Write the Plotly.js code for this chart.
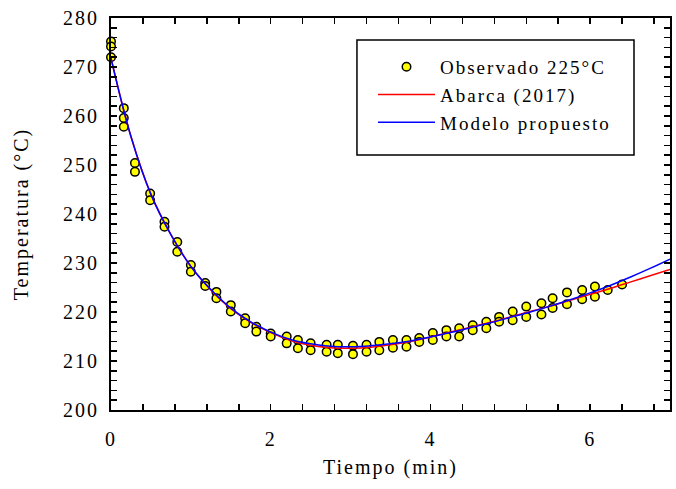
<!DOCTYPE html>
<html><head><meta charset="utf-8">
<script src="https://cdn.plot.ly/plotly-3.0.1.min.js"></script>
<style>
body{margin:0;background:#fff}
#chart text{letter-spacing:2px}
#chart .legend, #chart .legend *{clip-path:none !important}
</style>
</head><body>
<div id="chart" style="width:676px;height:489px"></div>
<script>
// Observed data (225 °C), time in min, temperature in °C
const obsTime = [0,0,0, 0.16,0.16,0.16, 0.3,0.3, 0.49,0.49, 0.67,0.67, 0.83,0.83, 1.0,1.0,
  1.18,1.18, 1.32,1.32, 1.5,1.5, 1.68,1.68, 1.82,1.82, 2.0,2.0, 2.2,2.2, 2.34,2.34, 2.5,2.5,
  2.7,2.7, 2.84,2.84, 3.03,3.03, 3.2,3.2, 3.36,3.36, 3.53,3.53, 3.7,3.7, 3.86,3.86, 4.03,4.03,
  4.2,4.2, 4.36,4.36, 4.53,4.53, 4.7,4.7, 4.86,4.86, 5.03,5.03, 5.2,5.2, 5.39,5.39, 5.53,5.53,
  5.71,5.71, 5.9,5.9, 6.06,6.06, 6.22, 6.4];
const obsTemp = [275.2,274.2,272.0, 261.6,259.6,257.8, 250.4,248.6, 244.2,242.8, 238.4,237.4, 234.3,232.3, 229.6,228.2,
  225.9,225.3, 224.1,222.8, 221.4,220.1, 218.7,217.7, 217.0,216.0, 215.6,215.0, 215.0,213.6, 214.3,212.6, 213.6,212.2,
  213.3,211.9, 213.3,211.6, 213.1,211.4, 213.3,211.9, 213.9,212.2, 214.3,212.7, 214.3,212.9, 214.7,213.9, 215.7,214.3,
  216.3,215.0, 216.7,215.0, 217.3,216.3, 218.0,216.7, 219.0,218.0, 220.1,218.3, 221.1,219.0, 221.8,219.5, 222.8,220.8,
  224.0,221.6, 224.5,222.6, 225.2,223.1, 224.5, 225.6];

// Model curves
const modelTime = [0,0.25,0.5,0.75,1.0,1.25,1.5,1.75,2.0,2.25,2.5,2.75,3.0,3.25,3.5,3.75,4.0,4.25,4.5,4.75,5.0,5.25,5.5,5.75,6.0,6.25,6.5,6.75,7.0];
const abarcaTemp = [271.8,255.8,244.0,235.8,229.3,224.5,220.7,217.9,215.8,214.2,213.2,212.7,212.6,212.8,213.3,214.0,214.9,215.9,216.9,217.9,219.0,220.1,221.2,222.4,223.6,224.8,226.1,227.4,228.7];
const propuestoTemp = [271.8,255.8,244.0,235.8,229.3,224.6,220.8,218.0,215.9,214.4,213.5,213.0,212.9,213.1,213.5,214.1,214.9,215.8,216.8,217.8,218.9,220.0,221.2,222.5,223.9,225.4,227.1,228.9,230.8];

const xTickVals = [0,2,4,6];
const yTickVals = [200,210,220,230,240,250,260,270,280];

const FONT = 'Liberation Serif, Times New Roman, serif';

const traces = [
  {x: obsTime, y: obsTemp, mode: 'markers', type: 'scatter', name: 'Observado 225°C', cliponaxis: false,
   marker: {color: '#ffff00', size: 8.5, line: {color: '#000', width: 1.5}}},
  {x: modelTime, y: abarcaTemp, mode: 'lines', type: 'scatter', name: 'Abarca (2017)',
   line: {color: '#ff0000', width: 1.5, shape: 'spline'}},
  {x: modelTime, y: propuestoTemp, mode: 'lines', type: 'scatter', name: 'Modelo propuesto',
   line: {color: '#0000ff', width: 1.5, shape: 'spline'}}
];

const axisCommon = {
  showgrid: false, zeroline: false, showline: true, linecolor: '#000', linewidth: 2,
  mirror: 'ticks', ticks: 'inside', ticklen: 6, tickwidth: 1.5, tickcolor: '#000',
  tickfont: {family: FONT, size: 20, color: '#000'}
};

const layout = {
  width: 676, height: 489,
  margin: {l: 111, r: 6, t: 18, b: 79},
  paper_bgcolor: '#fff', plot_bgcolor: '#fff',
  font: {family: FONT, size: 20, color: '#000'},
  showlegend: true,
  legend: {x: 0.4687, y: 0.9235, xanchor: 'left', yanchor: 'top',
    bgcolor: 'rgba(0,0,0,0)', borderwidth: 0,
    font: {family: FONT, size: 19, color: '#000'}, itemwidth: 57, tracegroupgap: 0},
  shapes: [
    {type: 'rect', xref: 'paper', yref: 'paper', x0: 0.440, x1: 0.9356, y0: 0.6505, y1: 0.9439,
     line: {color: '#000', width: 1.5}, fillcolor: '#fff', layer: 'below'}
  ],
  xaxis: Object.assign({}, axisCommon, {
    range: [0, 7], tickmode: 'array', tickvals: xTickVals, ticktext: xTickVals.map(String),
    ticklabelstandoff: 10,
    minor: {dtick: 0.4, tick0: 0, ticks: 'inside', ticklen: 6, tickwidth: 1.5, tickcolor: '#000'},
    title: {text: 'Tiempo (min)', font: {family: FONT, size: 20, color: '#000'}, standoff: 11}
  }),
  yaxis: Object.assign({}, axisCommon, {
    range: [200, 280], tickmode: 'array', tickvals: yTickVals, ticktext: yTickVals.map(String),
    ticklabelstandoff: 6,
    minor: {dtick: 2, tick0: 200, ticks: 'inside', ticklen: 6, tickwidth: 1.5, tickcolor: '#000'},
    title: {text: 'Temperatura (°C)', font: {family: FONT, size: 20, color: '#000'}, standoff: 35}
  })
};

Plotly.newPlot('chart', traces, layout, {displayModeBar: false, staticPlot: true});
</script>
</body></html>
